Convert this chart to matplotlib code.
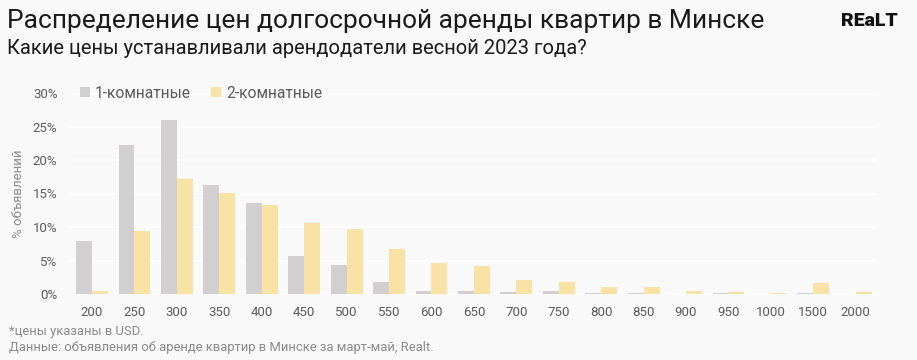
import numpy as np
import matplotlib

matplotlib.use("Agg")
import matplotlib.pyplot as plt
from matplotlib.ticker import PercentFormatter

# price buckets, USD
prices = ["200", "250", "300", "350", "400", "450", "500", "550", "600", "650",
          "700", "750", "800", "850", "900", "950", "1000", "1500", "2000"]
# share of listings, %
one_room = [7.9, 22.2, 26.0, 16.3, 13.6, 5.6, 4.4, 1.8, 0.4, 0.45,
            0.3, 0.45, 0.1, 0.1, 0.0, 0.1, 0.0, 0.1, 0.0]
two_room = [0.4, 9.4, 17.2, 15.1, 13.3, 10.6, 9.7, 6.7, 4.6, 4.2,
            2.1, 1.8, 1.0, 1.0, 0.45, 0.3, 0.1, 1.6, 0.3]

BG = "#f9f9f9"
GRAY = "#d1cfcf"
YELLOW = "#f8e2a6"
TEXT = "#5a5a5a"
FONT = "Roboto"

plt.rcParams["font.family"] = [FONT, "DejaVu Sans"]

fig = plt.figure(figsize=(9.17, 3.6), dpi=100, facecolor=BG)
ax = fig.add_axes([70 / 917, 1 - 294 / 360, 807 / 917, 201 / 360], facecolor=BG)

x = np.arange(len(prices))
w = 0.375
ax.bar(x - w / 2, one_room, width=w, color=GRAY, label="1-комнатные", zorder=2)
ax.bar(x + w / 2, two_room, width=w, color=YELLOW, label="2-комнатные", zorder=2)

ax.set_xlim(-0.52, len(prices) - 0.5)
ax.set_ylim(0, 30)
ax.set_yticks(range(0, 31, 5))
ax.yaxis.set_major_formatter(PercentFormatter(decimals=0))
ax.set_xticks(x, prices)
ax.grid(axis="y", color="white", linewidth=1.2, zorder=1)
for s in ax.spines.values():
    s.set_visible(False)
ax.tick_params(axis="both", length=0, labelsize=9.5, colors=TEXT)
ax.tick_params(axis="x", pad=9)
ax.tick_params(axis="y", pad=9)
ax.set_ylabel("% объявлений", fontsize=9.5, color="#8a8a8a", labelpad=6)

ax.legend(loc="center left", bbox_to_anchor=(0.005, 1.0), ncol=2, frameon=False,
          fontsize=11.2, labelcolor=TEXT, handlelength=0.65, handleheight=0.65,
          handletextpad=0.3, columnspacing=1.3, borderaxespad=0.0)

fig.text(7 / 917, 1 - 21 / 360, "Распределение цен долгосрочной аренды квартир в Минске",
         fontsize=19, color="#1a1a1a", va="center", ha="left")
fig.text(7 / 917, 1 - 48 / 360, "Какие цены устанавливали арендодатели весной 2023 года?",
         fontsize=14.5, color="#1a1a1a", va="center", ha="left")
fig.text(898 / 917, 1 - 21 / 360, "REaLT", fontsize=14, fontweight="heavy",
         color="#111111", va="center", ha="right")
fig.text(9 / 917, 1 - 332 / 360, "*цены указаны в USD.", fontsize=9.4,
         color="#8a8a8a", va="center", ha="left")
fig.text(9 / 917, 1 - 348 / 360, "Данные: объявления об аренде квартир в Минске за март-май, Realt.",
         fontsize=9.4, color="#8a8a8a", va="center", ha="left")

fig.savefig("out.png", dpi=100, facecolor=BG)
